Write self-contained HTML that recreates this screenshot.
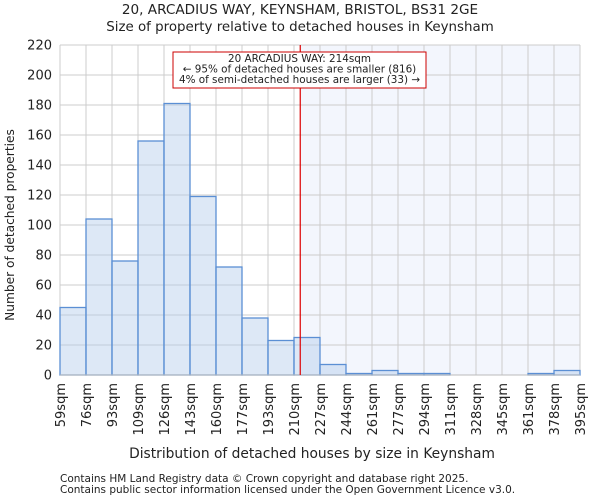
<!DOCTYPE html>
<html><head><meta charset="utf-8"><style>
body{margin:0;background:#fff;font-family:"DejaVu Sans","Liberation Sans",sans-serif}
svg text{font-family:"DejaVu Sans","Liberation Sans",sans-serif;fill:#222}
</style></head><body>
<svg id="c" width="600" height="500">
<text x="300" y="14" font-size="13.6" text-anchor="middle">20, ARCADIUS WAY, KEYNSHAM, BRISTOL, BS31 2GE</text>
<text x="300" y="31" font-size="13.4" text-anchor="middle">Size of property relative to detached houses in Keynsham</text>
<g id="plot"></g>
<text x="312" y="458" font-size="13.8" text-anchor="middle">Distribution of detached houses by size in Keynsham</text>
<text transform="translate(14,225) rotate(-90)" font-size="12.2" text-anchor="middle">Number of detached properties</text>
<text x="60" y="482" font-size="10.5" fill="#444">Contains HM Land Registry data © Crown copyright and database right 2025.</text>
<text x="60" y="493" font-size="10.5" fill="#444">Contains public sector information licensed under the Open Government Licence v3.0.</text>
</svg>
<script>
const binLabels=["59sqm","76sqm","93sqm","109sqm","126sqm","143sqm","160sqm","177sqm","193sqm","210sqm","227sqm","244sqm","261sqm","277sqm","294sqm","311sqm","328sqm","345sqm","361sqm","378sqm","395sqm"];
const counts=[45,104,76,156,181,119,72,38,23,25,7,1,3,1,1,0,0,0,1,3];
const yTicks=[0,20,40,60,80,100,120,140,160,180,200,220];
const propertyBinPos=9.24;
const NS="http://www.w3.org/2000/svg";
const L=60,R=580,T=45,B=375,yMax=220;
const bw=(R-L)/counts.length;
const x=i=>L+i*bw, y=v=>B-(v/yMax)*(B-T);
const g=document.getElementById('plot');
function mk(t,a){const e=document.createElementNS(NS,t);for(const k in a)e.setAttribute(k,a[k]);g.appendChild(e);return e;}
const px=x(propertyBinPos);
let e=mk('rect',{x:px,y:T,width:R-px,height:B-T,fill:'#f3f6fd'});


yTicks.forEach(v=>{let l=mk('line',{x1:L,x2:R,y1:y(v),y2:y(v),stroke:'#ccc','stroke-width':1});


let t=mk('text',{x:L-8,y:y(v)+4.5,'font-size':13,'text-anchor':'end'});t.textContent=v;

});
binLabels.forEach((s,i)=>{let l=mk('line',{x1:x(i),x2:x(i),y1:T,y2:B,stroke:'#ccc','stroke-width':1});


let t=mk('text',{'font-size':13,'text-anchor':'end',transform:`translate(${x(i)+5},${B+8}) rotate(-90)`});t.textContent=s;

});
counts.forEach((v,i)=>{if(v<=0)return;let r=mk('rect',{x:x(i),y:y(v),width:bw,height:B-y(v),fill:'rgba(180,204,234,0.45)',stroke:'#5b8fd4','stroke-width':1.3});

});
e=mk('line',{x1:L,x2:R,y1:B,y2:B,stroke:'#bbb'});


e=mk('line',{x1:px,x2:px,y1:T,y2:B,stroke:'#d00','stroke-width':1.2});


e=mk('rect',{x:173,y:52,width:253,height:36,fill:'#fff',stroke:'#c00','stroke-width':1});


["20 ARCADIUS WAY: 214sqm","← 95% of detached houses are smaller (816)","4% of semi-detached houses are larger (33) →"].forEach((s,i)=>{let t=mk('text',{x:299.5,y:62+i*10.5,'font-size':10.4,'text-anchor':'middle'});t.textContent=s;

});
</script>
</body></html>
